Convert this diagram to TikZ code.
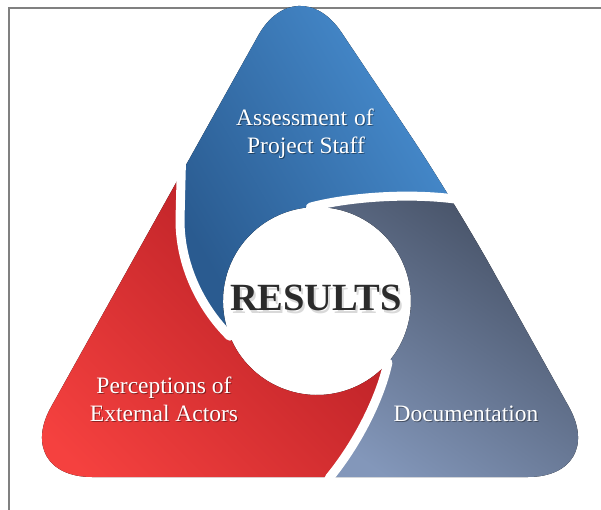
\documentclass[tikz,border=0pt]{standalone}
\usepackage{fontspec}
\setmainfont{Liberation Serif}
\definecolor{blueL}{HTML}{4C95DA}
\definecolor{blueD}{HTML}{2A5B90}
\definecolor{redD}{HTML}{B01B22}
\definecolor{redL}{HTML}{F5413F}
\definecolor{slateD}{HTML}{3E485B}
\definecolor{slateL}{HTML}{8397BA}
\definecolor{frameC}{HTML}{808080}
\definecolor{resC}{HTML}{2B2B2B}
\begin{document}
\begin{tikzpicture}[x=1pt,y=-1pt,
  sep/.style={draw=white,line width=9pt,line cap=round},
  lbl/.style={text=white,font=\fontsize{23.5}{28}\selectfont,anchor=base,inner sep=0pt},
  lblshadow/.style={text=black,opacity=0.4,font=\fontsize{23.5}{28}\selectfont,anchor=base,inner sep=0pt},
  frameline/.style={draw=frameC,line width=2pt},
  blueshade/.style={top color=blueL,bottom color=blueD,shading angle=-60},
  redshade/.style={top color=redD,bottom color=redL,shading angle=-45},
  slateshade/.style={top color=slateD,bottom color=slateL,shading angle=-35},
  resfont/.style={anchor=base,inner sep=0pt,font=\fontsize{38.5}{40}\selectfont\bfseries}]
\useasboundingbox (0,0) rectangle (601,510);
% frame
\draw[frameline] (601,8) -- (9,8) -- (9,510);
% key points
\coordinate (C) at (317,301);
\coordinate (s1a) at (310.4,207.2);
\coordinate (s2a) at (387.9,362.7);
\coordinate (s3a) at (229.8,336.2);
\begin{scope}
\clip[rounded corners=80pt] (310,477) -- (608,477) -- (453,199) -- (297,-34) -- (12,477) -- cycle;
% blue piece
\fill[blueshade] (182,140) -- (250,-40) -- (400,-40) -- (480,201) -- (455,199)
  .. controls (400,192) and (340,199) .. (s1a)
  arc[start angle=266,end angle=158,radius=94]
  .. controls (205,312) and (180,270) .. (180,220) -- cycle;
% slate piece
\fill[slateshade] (s1a) .. controls (340,199) and (400,192) .. (455,199)
  -- (480,201) -- (620,200) -- (640,500) -- (318,500) -- (330,477)
  .. controls (360,440) and (381,395) .. (s2a)
  arc[start angle=41,end angle=-94,radius=94] -- cycle;
% red piece
\fill[redshade] (s2a) .. controls (381,395) and (360,440) .. (330,477)
  -- (318,500) -- (0,500) -- (100,140) -- (182,140) -- (180,220)
  .. controls (180,270) and (205,312) .. (s3a)
  arc[start angle=158,end angle=41,radius=94] -- cycle;
\end{scope}
% separators
\draw[sep] (s1a) .. controls (340,199) and (400,192) .. (455,199) -- (480,201);
\draw[sep] (s2a) .. controls (381,395) and (360,440) .. (330,477) -- (318,500);
\draw[sep] (s3a) .. controls (205,312) and (180,270) .. (180,220) -- (182,140);
% labels
\node[lblshadow] (a1s) at (306,127) {Assessment\hspace{0.3em}of};
\node[lbl] (a1) at (305,126) {Assessment\hspace{0.3em}of};
\node[lblshadow] (a2s) at (307,155) {Project Staff};
\node[lbl] (a2) at (306,154) {Project Staff};
\node[lblshadow] (p1s) at (165,394) {Perceptions of};
\node[lbl] (p1) at (164,393) {Perceptions of};
\node[lblshadow] (p2s) at (165,422) {External Actors};
\node[lbl] (p2) at (164,421) {External Actors};
\node[lblshadow] (d1s) at (467,422) {Documentation};
\node[lbl] (d1) at (466,421) {Documentation};
% center
\node[resfont,text=black,opacity=0.15] (rs) at (318,313.5) {RESULTS};
\node[resfont,text=resC] (res) at (316,310) {RESULTS};
\end{tikzpicture}
\end{document}
